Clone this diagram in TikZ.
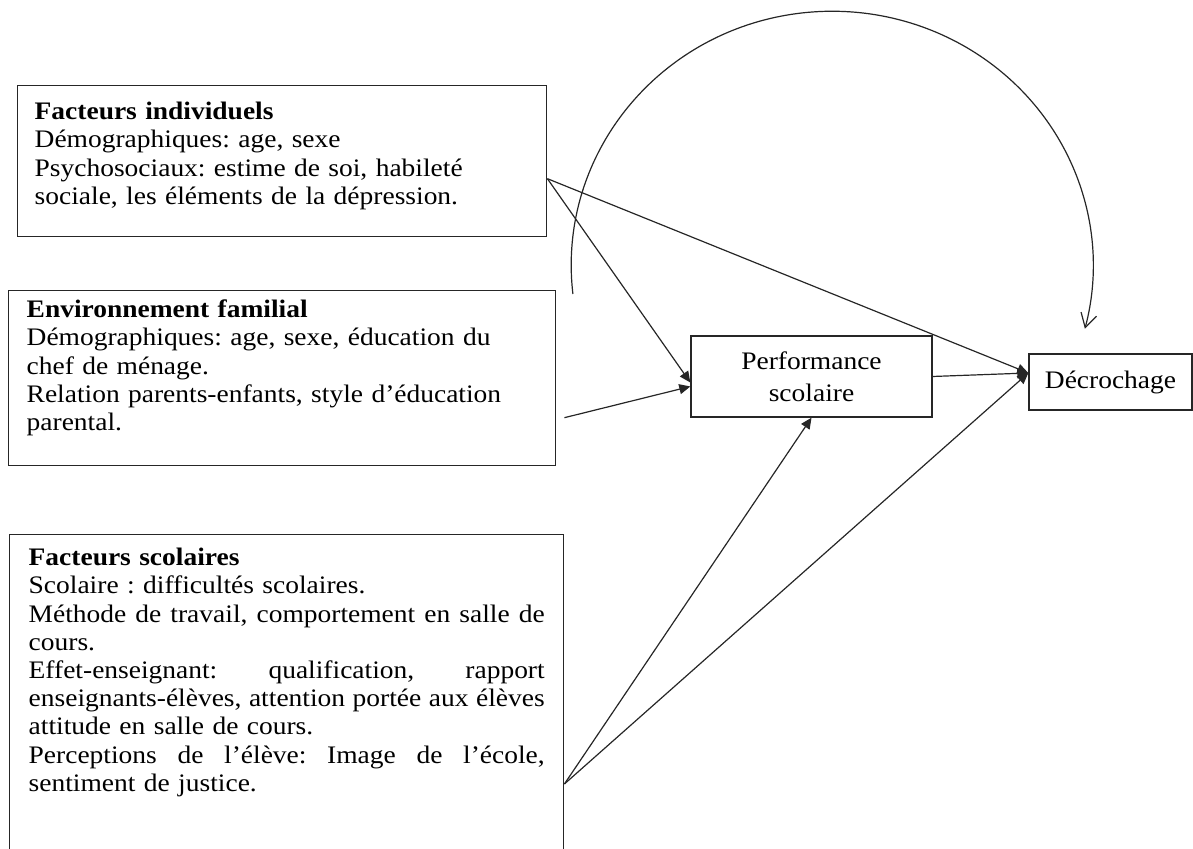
\documentclass[tikz,border=0pt]{standalone}
\usepackage{fontspec}
\setmainfont{Liberation Serif}[FakeStretch=1.09]
\usetikzlibrary{arrows.meta,calc}
\newcommand{\spread}[1]{\leavevmode\hbox to \linewidth{#1}}

\begin{document}
\begin{tikzpicture}[x=0.5pt, y=0.5pt,
    box/.style={draw=black!85, line width=0.7pt, inner ysep=0pt, anchor=north west,
      align=left, font=\fontsize{12.6}{14.1}\selectfont\frenchspacing},
    stage/.style={draw=black!85, line width=0.7pt, align=center,
      font=\fontsize{12.6}{16}\selectfont},
    link/.style={draw=black!85, line width=0.6pt, -{Triangle[length=5.5pt, width=5pt]}}]
  \useasboundingbox (0, 0) rectangle (1193, 849);
  \clip (0, 0) rectangle (1193, 849);

  % factor boxes
  \node[box, inner xsep=8.5pt, text width=247.5pt, text height=17pt, text depth=58.5pt]
    (ind) at (17, 764)
    {\textbf{Facteurs individuels}\\
     Démographiques: age, sexe\\
     Psychosociaux: estime de soi, habileté\\
     sociale, les éléments de la dépression.};

  \node[box, inner xsep=9pt, text width=255.5pt, text height=13.5pt, text depth=74pt]
    (fam) at (8, 559)
    {\textbf{Environnement familial}\\
     Démographiques: age, sexe, éducation du\\
     chef de ménage.\\
     Relation parents-enfants, style d’éducation\\
     parental.};

  \node[box, inner xsep=8.5pt, text width=258pt, minimum width=277pt,
    text height=15.5pt, text depth=147pt]
    (scol) at (9, 315)
    {\textbf{Facteurs scolaires}\\
     Scolaire : difficultés scolaires.\\
     \spread{Méthode\hfill de\hfill travail,\hfill comportement\hfill en\hfill salle\hfill de}\\
     cours.\\
     \spread{Effet-enseignant:\hfill qualification,\hfill rapport}\\
     \spread{enseignants-élèves,\hfill attention\hfill portée\hfill aux\hfill élèves}\\
     attitude en salle de cours.\\
     \spread{Perceptions\hfill de\hfill l’élève:\hfill Image\hfill de\hfill l’école,}\\
     sentiment de justice.};

  % outcomes
  \node[stage, minimum width=120.5pt, minimum height=40.5pt] (perf) at (811.5, 472.5)
    {Performance\\scolaire};
  \node[stage, minimum width=81.5pt, minimum height=28pt] (dec) at (1110.5, 467)
    {Décrochage};

  \draw[link] ($(ind.east)+(0,-17.5)$) -- ($(perf.west)+(0,-6)$);
  \draw[link] ($(ind.east)+(0,-17.5)$) -- ($(dec.west)+(0,9)$);
  \draw[link] ($(fam.east)+(8,-39.5)$) -- ($(perf.west)+(0,-10)$);
  \draw[link] ($(scol.north east)+(0,-250)$) -- (perf.south);
  \draw[link] ($(scol.north east)+(0,-250)$) -- ($(dec.west)+(0,9)$);
  \draw[link] (perf.east) -- ($(dec.west)+(0,9)$);

  % feedback loop
  \coordinate (loop) at (572.9, 555);
  \draw[draw=black!85, line width=0.6pt, -{Straight Barb[length=7pt, width=8pt]}]
    (loop) arc[start angle=186.5, end angle=-14.5, x radius=261, y radius=254];
\end{tikzpicture}
\end{document}
